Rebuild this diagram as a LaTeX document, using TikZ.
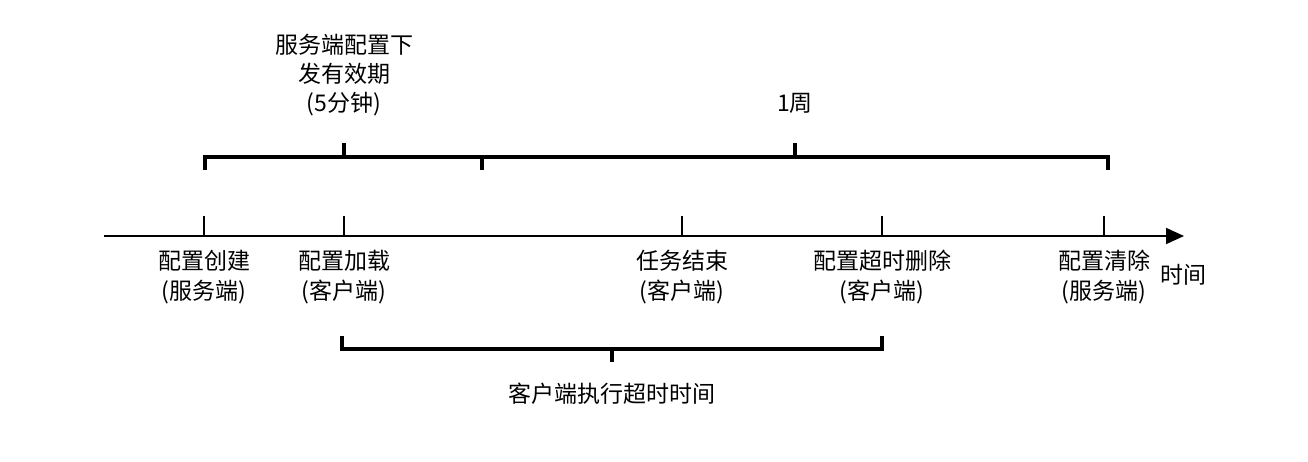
\documentclass[tikz,border=0pt]{standalone}
\usepackage{fontspec}
\setmainfont{Noto Sans CJK SC}
\usetikzlibrary{arrows.meta,positioning}

\begin{document}
\begin{tikzpicture}[
    x=1pt, y=-1pt,
    lbl/.style={align=center, inner sep=0pt, font=\fontsize{23}{30}\selectfont},
    axis/.style={-{Triangle[length=18pt,width=16pt]}, line width=1.8pt},
    tickline/.style={line width=1.8pt},
    bracket/.style={line width=3.6pt}
]
\useasboundingbox (0,0) rectangle (1308,462);

% time axis
\coordinate (origin) at (104,236);
\coordinate (tip) at (1184,236);
\coordinate (create) at (204,236);
\coordinate (load) at (344,236);
\coordinate (finish) at (682,236);
\coordinate (expire) at (882,236);
\coordinate (purge) at (1104,236);
\draw[axis] (origin) -- (tip);
\foreach \c in {create,load,finish,expire,purge}
    \draw[tickline] (\c) -- ++(0,-20);

% events
\node[lbl, below=14pt of create] (createlbl) {配置创建\\(服务端)};
\node[lbl, below=14pt of load] (loadlbl) {配置加载\\(客户端)};
\node[lbl, below=14pt of finish] (finishlbl) {任务结束\\(客户端)};
\node[lbl, below=14pt of expire] (expirelbl) {配置超时删除\\(客户端)};
\node[lbl, below=14pt of purge] (purgelbl) {配置清除\\(服务端)};
\node[lbl] (timelbl) at (1183,275) {时间};

% periods
\coordinate (ttlmid) at (344,143);
\coordinate (weekmid) at (795,143);
\coordinate (runmid) at (612,362);
\draw[bracket] (205,170) |- (1108,157) -- (1108,170);
\draw[bracket] (482,157) -- (482,170);
\draw[bracket] (344,157) -- (ttlmid);
\draw[bracket] (795,157) -- (weekmid);
\draw[bracket] (342,336) |- (882,349) -- (882,336);
\draw[bracket] (612,349) -- (runmid);

\node[lbl, font=\fontsize{23}{29}\selectfont, above=27pt of ttlmid] (ttllbl) {服务端配置下\\发有效期\\(5分钟)};
\node[lbl, above=29pt of weekmid] (weeklbl) {1周};
\node[lbl, below=21pt of runmid] (runlbl) {客户端执行超时时间};
\end{tikzpicture}
\end{document}
